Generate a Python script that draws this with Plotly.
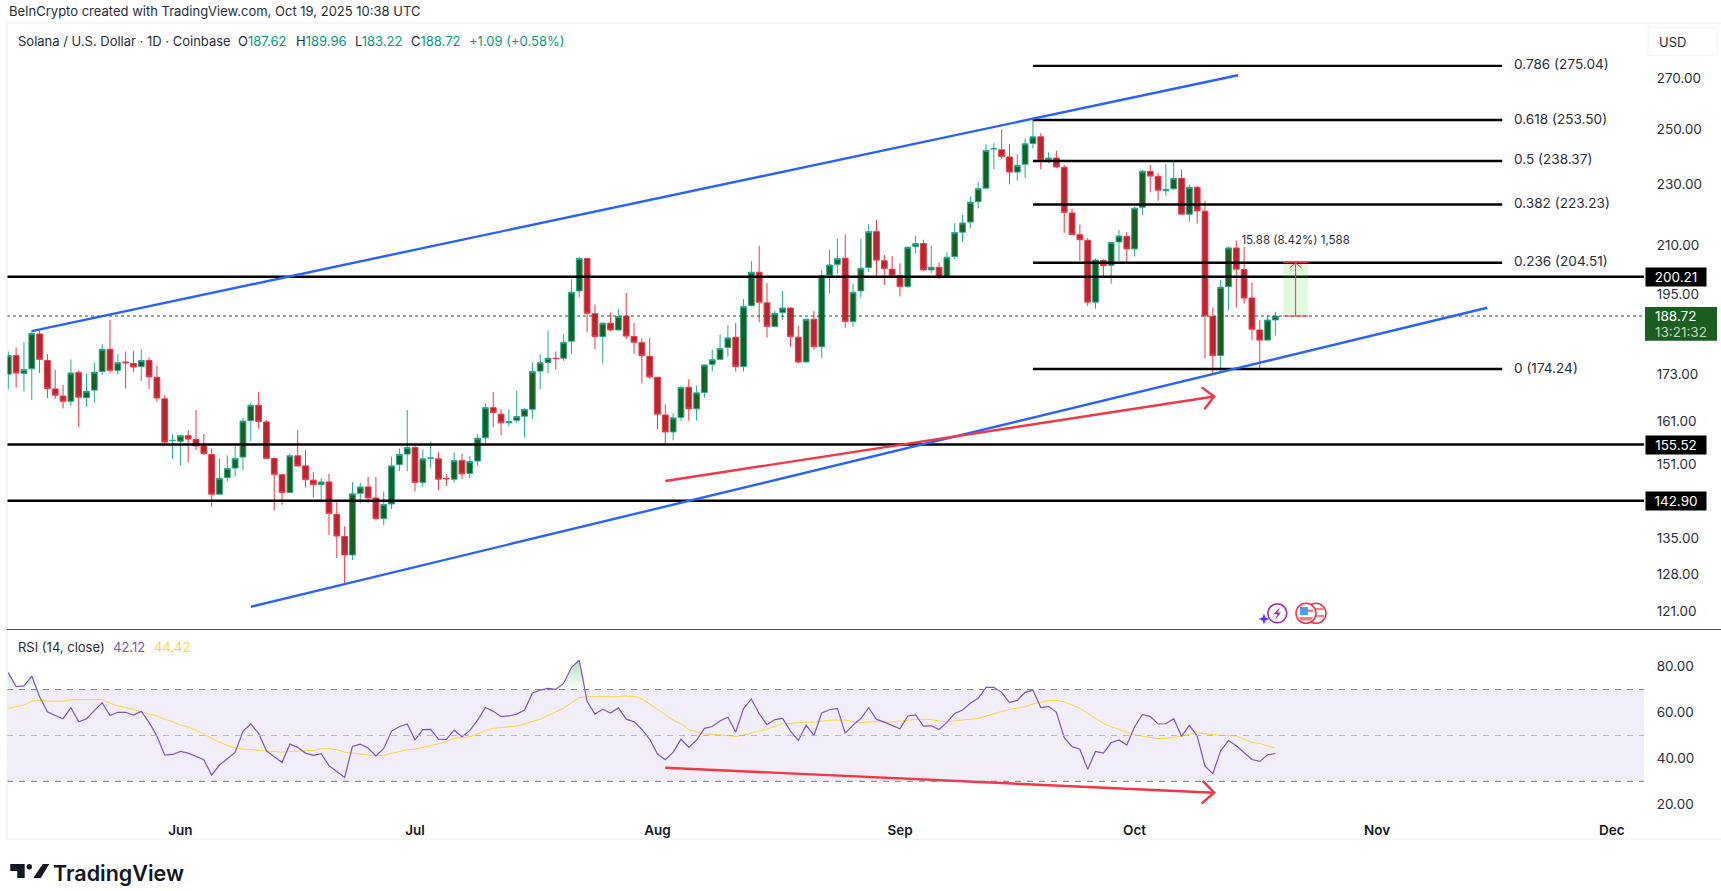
import numpy as np
import pandas as pd
import plotly.graph_objs as go

W, H = 1721, 891

# Daily candles, 10 May to 19 Oct 2025
first_day = "2025-05-10"
opens = [
    172.9, 177.8, 173.1, 174.3, 183.7, 176.5, 169.1, 167.3, 166.0, 173.3,
    166.9, 168.8, 173.6, 179.5, 173.9, 176.1, 175.7, 174.9, 176.5, 172.1,
    166.6, 156.4, 156.3, 157.6, 156.7, 155.2, 153.2, 144.3, 148.0, 150.1,
    152.6, 161.2, 165.0, 160.9, 152.3, 148.6, 144.7, 152.9, 150.6, 147.4,
    146.4, 147.0, 140.0, 135.4, 131.7, 144.5, 145.9, 143.5, 139.1, 142.2,
    150.9, 153.3, 154.8, 146.9, 152.3, 152.2, 147.8, 147.6, 151.8, 148.9,
    151.7, 157.1, 164.4, 162.8, 160.7, 161.3, 162.3, 164.0, 173.7, 176.0,
    177.1, 177.1, 181.7, 196.0, 205.8, 189.4, 183.0, 186.7, 184.8, 188.7,
    183.0, 181.3, 177.6, 172.1, 162.6, 158.5, 162.0, 169.5, 164.1, 168.2,
    175.5, 176.8, 180.0, 182.8, 174.9, 191.7, 201.6, 192.5, 185.8, 189.7,
    191.0, 182.8, 176.1, 187.8, 180.2, 200.7, 204.0, 205.9, 187.2, 196.0,
    203.0, 214.3, 205.1, 202.5, 200.6, 197.3, 209.6, 210.5, 202.3, 203.1,
    200.2, 206.4, 214.1, 217.4, 224.2, 228.8, 242.7, 242.4, 239.8, 234.4,
    237.2, 244.7, 247.2, 238.8, 239.4, 236.1, 220.4, 213.3, 211.5, 192.7,
    205.2, 203.7, 211.0, 212.8, 208.8, 222.3, 234.6, 232.9, 227.9, 228.6,
    232.2, 220.0, 229.1, 221.0, 188.6, 177.8, 197.3, 209.1, 202.4, 193.9,
    184.8, 182.0, 187.62,
]
highs = [
    178.9, 180.0, 181.4, 184.5, 184.7, 178.2, 174.1, 170.1, 176.8, 173.9,
    173.1, 176.0, 180.9, 187.7, 178.2, 178.9, 179.0, 179.5, 177.3, 175.2,
    167.5, 158.0, 157.9, 158.9, 163.8, 158.0, 154.6, 152.3, 153.0, 155.2,
    161.8, 165.6, 168.3, 161.4, 152.5, 148.8, 153.4, 158.9, 154.3, 149.2,
    147.8, 148.8, 142.6, 137.5, 147.0, 146.8, 148.1, 148.1, 144.9, 152.7,
    154.6, 163.8, 155.5, 154.4, 156.2, 153.7, 148.8, 153.7, 153.4, 152.8,
    158.0, 165.5, 168.3, 164.0, 164.0, 168.6, 164.2, 176.0, 178.2, 184.7,
    178.9, 183.6, 199.5, 206.3, 205.9, 192.0, 186.9, 189.7, 190.7, 195.4,
    186.8, 182.5, 182.6, 172.2, 165.2, 163.0, 169.8, 171.6, 170.0, 175.5,
    179.4, 183.5, 186.1, 186.7, 193.6, 205.0, 209.8, 198.3, 190.2, 196.0,
    191.2, 186.0, 188.0, 190.2, 202.3, 208.5, 212.0, 213.4, 198.1, 212.0,
    216.8, 218.1, 206.9, 206.6, 204.3, 209.5, 213.0, 211.7, 209.8, 204.6,
    207.7, 217.0, 219.8, 225.9, 231.0, 244.4, 244.8, 249.9, 244.5, 240.8,
    246.6, 253.8, 248.5, 241.5, 242.0, 236.9, 221.8, 216.6, 212.3, 205.8,
    205.6, 211.0, 214.9, 214.1, 222.4, 235.1, 236.9, 234.0, 237.3, 238.1,
    235.2, 230.0, 229.6, 224.5, 191.2, 199.3, 209.5, 211.4, 209.4, 198.5,
    187.6, 188.9, 189.96,
]
lows = [
    169.0, 169.4, 168.4, 166.3, 173.2, 166.8, 166.6, 164.2, 164.8, 159.6,
    164.6, 165.7, 172.7, 173.3, 172.8, 169.2, 173.5, 171.2, 169.0, 165.9,
    155.2, 152.2, 150.7, 151.4, 154.2, 153.1, 141.6, 144.2, 147.1, 148.2,
    149.7, 156.3, 159.3, 152.2, 140.8, 142.0, 144.5, 150.4, 145.8, 143.6,
    143.0, 135.7, 131.1, 126.1, 130.7, 142.3, 142.4, 138.7, 137.7, 141.1,
    149.4, 149.4, 144.9, 146.0, 150.0, 145.2, 146.1, 146.9, 147.6, 147.8,
    150.6, 155.8, 159.7, 157.7, 159.8, 160.7, 157.2, 161.6, 169.0, 173.2,
    174.1, 176.4, 178.3, 194.1, 184.2, 179.5, 175.7, 184.5, 184.7, 182.3,
    178.3, 170.5, 171.7, 159.2, 155.7, 156.5, 161.2, 161.2, 161.2, 166.9,
    173.6, 176.7, 177.5, 173.6, 173.6, 191.4, 187.0, 182.7, 185.6, 187.6,
    180.2, 175.7, 176.0, 179.4, 177.2, 195.2, 201.1, 185.4, 185.7, 194.1,
    201.7, 200.1, 197.7, 200.3, 194.4, 196.9, 207.4, 202.0, 201.3, 199.5,
    200.1, 205.6, 211.0, 215.3, 221.9, 228.4, 235.4, 239.1, 230.1, 231.4,
    232.4, 242.9, 235.4, 237.6, 235.8, 213.9, 213.0, 205.1, 191.6, 190.8,
    200.1, 198.1, 204.9, 204.4, 206.4, 219.7, 227.3, 224.5, 226.2, 228.2,
    219.8, 217.5, 216.9, 177.0, 172.8, 173.5, 190.3, 191.2, 192.3, 182.1,
    174.2, 181.9, 183.22,
]
closes = [
    177.8, 173.2, 174.1, 183.8, 176.8, 169.2, 167.5, 166.0, 173.2, 167.0,
    168.5, 173.4, 179.5, 173.9, 175.9, 175.9, 174.8, 176.5, 172.2, 166.8,
    156.1, 156.5, 157.6, 156.8, 155.2, 153.4, 144.3, 147.8, 150.0, 152.3,
    161.1, 165.0, 161.0, 152.3, 148.7, 144.7, 152.9, 150.6, 147.5, 146.4,
    147.0, 140.2, 135.5, 131.7, 144.4, 145.9, 143.5, 139.1, 142.1, 150.6,
    153.2, 154.8, 146.9, 152.2, 152.4, 147.6, 147.7, 151.8, 148.8, 151.6,
    157.0, 164.4, 163.2, 160.7, 161.0, 162.2, 164.0, 173.6, 175.9, 177.1,
    177.0, 181.4, 195.6, 205.8, 189.5, 183.0, 186.7, 184.8, 188.6, 183.1,
    181.4, 177.8, 172.2, 162.8, 158.5, 161.9, 169.5, 164.1, 168.1, 175.3,
    176.7, 179.7, 182.6, 174.9, 191.4, 201.6, 192.7, 185.8, 189.5, 191.0,
    183.0, 176.1, 187.8, 180.2, 200.6, 203.8, 205.8, 187.2, 195.6, 202.8,
    214.3, 205.3, 202.7, 200.6, 197.3, 209.3, 210.5, 202.3, 203.1, 200.1,
    206.2, 214.0, 217.1, 224.0, 228.6, 242.2, 242.8, 240.0, 234.4, 236.8,
    244.6, 247.2, 238.8, 239.4, 236.2, 220.6, 213.4, 211.7, 192.7, 205.3,
    203.6, 210.8, 212.9, 208.8, 222.0, 234.7, 233.0, 228.1, 228.4, 232.2,
    220.0, 229.1, 221.1, 188.8, 177.8, 197.1, 209.1, 202.5, 193.9, 185.0,
    182.0, 187.6, 188.72,
]

rsi = [
    77.4, 71.3, 71.6, 75.9, 66.9, 60.3, 58.7, 57.3, 62.1, 56.0,
    57.3, 60.6, 64.3, 58.7, 60.1, 60.1, 58.9, 60.5, 55.7, 49.7,
    41.4, 41.7, 43.0, 42.3, 41.0, 39.4, 32.7, 37.1, 39.8, 42.6,
    51.8, 55.0, 50.9, 43.3, 40.7, 38.2, 46.2, 44.8, 42.3, 41.3,
    42.0, 36.8, 34.3, 31.7, 45.2, 46.2, 44.5, 41.1, 44.3, 51.9,
    53.8, 55.0, 48.1, 52.5, 52.6, 48.4, 48.3, 52.3, 49.4, 52.1,
    56.7, 62.2, 60.5, 58.2, 58.5, 59.3, 61.1, 68.4, 69.8, 70.5,
    70.1, 72.7, 79.7, 82.8, 64.9, 59.3, 61.4, 59.8, 62.0, 57.1,
    56.0, 52.6, 48.3, 41.9, 39.4, 42.6, 48.4, 44.8, 48.0, 53.1,
    53.9, 56.3, 57.9, 51.5, 61.7, 65.9, 59.5, 54.7, 56.9, 57.4,
    51.9, 47.8, 54.5, 50.0, 59.8, 61.2, 61.8, 51.0, 54.5, 57.4,
    62.1, 57.0, 55.8, 54.5, 52.9, 58.5, 59.0, 54.1, 54.2, 52.6,
    55.7, 59.6, 61.1, 64.0, 66.2, 71.0, 71.0, 68.8, 64.3, 65.3,
    68.8, 69.8, 62.2, 62.7, 60.1, 49.0, 45.1, 44.0, 35.2, 43.0,
    42.3, 46.8, 48.0, 45.8, 53.8, 59.2, 58.2, 55.0, 55.1, 57.3,
    49.6, 54.4, 49.7, 36.6, 33.3, 43.3, 47.8, 45.5, 42.3, 39.5,
    38.7, 41.6, 42.12,
]
rsi_ma = [
    61.8, 62.7, 63.3, 64.9, 65.3, 65.0, 64.9, 64.9, 65.6, 65.6,
    65.6, 65.7, 65.6, 64.1, 62.8, 62.2, 61.4, 60.2, 59.3, 58.5,
    57.1, 56.1, 54.5, 53.7, 52.3, 50.7, 48.7, 47.1, 45.6, 44.6,
    44.0, 43.8, 43.5, 43.0, 42.9, 42.7, 43.0, 43.2, 43.3, 43.5,
    44.2, 44.2, 43.8, 42.7, 42.3, 41.9, 41.4, 41.1, 41.3, 42.3,
    43.0, 43.8, 44.0, 44.8, 45.5, 46.4, 47.2, 48.7, 49.1, 49.4,
    50.7, 52.1, 53.1, 53.5, 53.8, 54.1, 55.0, 56.0, 57.1, 58.7,
    60.3, 61.9, 64.3, 66.5, 66.9, 66.8, 66.8, 66.9, 67.0, 67.2,
    67.0, 65.9, 63.7, 61.4, 59.0, 56.7, 55.0, 52.6, 51.5, 50.7,
    50.5, 50.2, 49.7, 49.6, 50.2, 51.0, 51.9, 52.8, 53.9, 55.1,
    55.3, 55.7, 55.8, 55.8, 56.3, 56.6, 56.7, 56.7, 56.1, 55.7,
    55.8, 56.0, 55.8, 55.8, 56.3, 56.7, 57.0, 57.1, 56.9, 56.3,
    55.8, 56.4, 56.7, 57.1, 57.4, 58.5, 59.5, 60.3, 61.4, 61.9,
    62.5, 63.7, 64.6, 65.2, 65.3, 64.6, 63.3, 61.8, 59.6, 57.4,
    55.3, 53.8, 52.6, 51.5, 50.3, 49.7, 49.0, 48.6, 48.7, 49.1,
    49.7, 50.5, 51.3, 50.7, 50.2, 50.0, 50.0, 49.7, 48.4, 46.9,
    46.5, 45.5, 44.42,
]

# Axes
view_start, view_end = "2025-05-09 20:00", "2025-12-05 03:00"
price_ticks = [270, 250, 230, 210, 195, 173, 161, 151, 135, 128, 121]
price_range = [117.8, 293.4]
rsi_ticks = [80, 60, 40, 20]
rsi_range = [16.6, 96.0]
month_ticks = ["2025-06-01", "2025-07-01", "2025-08-01", "2025-09-01", "2025-10-01", "2025-11-01", "2025-12-01"]
month_labels = ["Jun", "Jul", "Aug", "Sep", "Oct", "Nov", "Dec"]

# Drawings
levels = [200.21, 155.52, 142.90]
fib_ratios = ["0.786", "0.618", "0.5", "0.382", "0.236", "0"]
fib_prices = [275.04, 253.50, 238.37, 223.23, 204.51, 174.24]
fib_start, fib_end, fib_label_at = "2025-09-18", "2025-11-17", "2025-11-18 05:00"
upper_dates, upper_prices = ["2025-05-13", "2025-10-14 05:00"], [184.5, 271.2]
lower_dates, lower_prices = ["2025-06-10", "2025-11-15 02:00"], [121.8, 191.1]
arrow_dates = ["2025-08-02", "2025-10-11 04:00"]
arrow_prices = [147.2, 167.2]
head_dates = ["2025-10-09 14:00", "2025-10-11 04:00", "2025-10-09 22:00"]
head_prices = [169.5, 167.2, 164.0]
rsi_arrow_dates = ["2025-08-02", "2025-10-11 04:00"]
rsi_arrow_vals = [35.9, 25.0]
rsi_head_dates = ["2025-10-09 17:00", "2025-10-11 04:00", "2025-10-09 14:00"]
rsi_head_vals = [30.2, 25.0, 20.3]
measure_dates = ["2025-10-20", "2025-10-23 05:00"]
measure_prices = [188.72, 204.6]
measure_mid = "2025-10-21 14:00"
measure_head_dates = ["2025-10-20 20:00", measure_mid, "2025-10-22 08:00"]
measure_head_prices = [203.0, 204.4, 203.0]
measure_text_price = 211.3

TEAL, DARK_GREEN = "#22ab94", "#1b5e20"
RED, DARK_RED = "#f23645", "#b22833"
BLUE, PURPLE, YELLOW = "#2962ff", "#7e57c2", "#fdd835"
TEXT = "#2a2e39"
FONT = "Inter, Roboto, sans-serif"
THICK = 2.4

days = pd.date_range(first_day, periods=len(closes))


def px(x):
    return x / W


def py(y):
    return 1 - y / H


def path(points, close=True):
    d = "M" + " L".join(f"{px(x):.5f},{py(y):.5f}" for x, y in points)
    return d + (" Z" if close else "")


def line(x, y, color="black", width=THICK, dash=None, xaxis="x", yaxis="y"):
    return go.Scatter(x=x, y=y, mode="lines", line=dict(color=color, width=width, dash=dash),
                      xaxis=xaxis, yaxis=yaxis, hoverinfo="skip", showlegend=False)


fig = go.Figure()

# Last price line sits under the candles
fig.add_trace(line([view_start, view_end], [closes[-1]] * 2, DARK_GREEN, 1, "dot"))

fig.add_trace(go.Candlestick(
    x=days, open=opens, high=highs, low=lows, close=closes, whiskerwidth=0,
    increasing=dict(line=dict(color=TEAL, width=1), fillcolor=DARK_GREEN),
    decreasing=dict(line=dict(color=RED, width=1), fillcolor=DARK_RED),
    hoverinfo="skip", showlegend=False,
))

# Horizontal levels
for level in levels:
    fig.add_trace(line([view_start, view_end], [level, level]))

# Fib levels
for price in fib_prices:
    fig.add_trace(line([fib_start, fib_end], [price, price]))

# Channel
fig.add_trace(line(upper_dates, upper_prices, BLUE))
fig.add_trace(line(lower_dates, lower_prices, BLUE))

# Price divergence arrow
fig.add_trace(line(arrow_dates, arrow_prices, RED))
fig.add_trace(line(head_dates, head_prices, RED))

# Measure tool
m0, m1 = measure_dates
p0, p1 = measure_prices
fig.add_trace(go.Scatter(x=[m0, m1, m1, m0, m0], y=[p0, p0, p1, p1, p0], mode="lines", fill="toself",
                         fillcolor="rgba(76,220,60,0.16)", line=dict(width=0),
                         hoverinfo="skip", showlegend=False))
fig.add_trace(line(measure_dates, [p0, p0], RED, 1))
fig.add_trace(line(measure_dates, [p1, p1], RED, 1))
fig.add_trace(line([measure_mid, measure_mid], [p0, p1], RED, 1))
fig.add_trace(line(measure_head_dates, measure_head_prices, RED, 1))
fig.add_trace(go.Scatter(x=[measure_mid], y=[measure_text_price], mode="text", text=["15.88 (8.42%) 1,588"],
                         textposition="middle center", textfont=dict(family=FONT, size=11.5, color=TEXT),
                         hoverinfo="skip", showlegend=False))

# RSI pane: the parts above 70 get a green gradient
above = np.maximum(rsi, 70)
for a, b in [(0, 5), (67, 76)]:
    fig.add_trace(go.Scatter(x=days[a:b], y=[70] * (b - a), mode="lines", line=dict(width=0),
                             xaxis="x2", yaxis="y2", hoverinfo="skip", showlegend=False))
    fig.add_trace(go.Scatter(x=days[a:b], y=above[a:b], mode="lines", line=dict(width=0), fill="tonexty",
                             fillgradient=dict(type="vertical", colorscale=[[0, "rgba(76,175,80,0.02)"], [1, "rgba(76,175,80,0.4)"]]),
                             xaxis="x2", yaxis="y2", hoverinfo="skip", showlegend=False))
fig.add_trace(line(days, rsi_ma, YELLOW, 1, xaxis="x2", yaxis="y2"))
fig.add_trace(line(days, rsi, PURPLE, 1.2, xaxis="x2", yaxis="y2"))
fig.add_trace(line(rsi_arrow_dates, rsi_arrow_vals, RED, xaxis="x2", yaxis="y2"))
fig.add_trace(line(rsi_head_dates, rsi_head_vals, RED, xaxis="x2", yaxis="y2"))

shapes = [
    # RSI band and its dashed limits
    dict(type="rect", xref="x2 domain", yref="y2", x0=0, x1=1, y0=30, y1=70,
         fillcolor="rgba(126,87,194,0.10)", line=dict(width=0), layer="below"),
    dict(type="line", xref="x2 domain", yref="y2", x0=0, x1=1, y0=70, y1=70, line=dict(color="#787b86", width=1, dash="6px,6px")),
    dict(type="line", xref="x2 domain", yref="y2", x0=0, x1=1, y0=50, y1=50, line=dict(color="#b2b5be", width=1, dash="6px,6px")),
    dict(type="line", xref="x2 domain", yref="y2", x0=0, x1=1, y0=30, y1=30, line=dict(color="#787b86", width=1, dash="6px,6px")),
    # Frame
    dict(type="line", xref="paper", yref="paper", x0=px(7), x1=1, y0=py(23), y1=py(23), line=dict(color="#eceef2", width=1)),
    dict(type="line", xref="paper", yref="paper", x0=px(7), x1=px(7), y0=py(23), y1=py(839), line=dict(color="#eceef2", width=1)),
    dict(type="line", xref="paper", yref="paper", x0=px(7), x1=1, y0=py(839), y1=py(839), line=dict(color="#eceef2", width=1)),
    dict(type="line", xref="paper", yref="paper", x0=px(7), x1=1, y0=py(629.5), y1=py(629.5), line=dict(color="#50535e", width=1)),
    # USD button
    dict(type="rect", xref="paper", yref="paper", x0=px(1648), x1=px(1717), y0=py(55.7), y1=py(27.3),
         fillcolor="white", line=dict(color="#f0f3fa", width=1)),
    # Last price tag
    dict(type="rect", xref="paper", yref="paper", x0=px(1645), x1=px(1717), y0=py(340.7), y1=py(307),
         fillcolor=DARK_GREEN, line=dict(width=0)),
    # TradingView mark
    dict(type="path", xref="paper", yref="paper", path=path([(10.3, 864), (24.7, 864), (24.7, 878), (17.3, 878), (17.3, 871), (10.3, 871)]),
         fillcolor="#131722", line=dict(width=0)),
    dict(type="circle", xref="paper", yref="paper", x0=px(26.6), x1=px(32), y0=py(869.4), y1=py(864), fillcolor="#131722", line=dict(width=0)),
    dict(type="path", xref="paper", yref="paper", path=path([(42.7, 864), (49.3, 864), (40.7, 878), (33.3, 878)]),
         fillcolor="#131722", line=dict(width=0)),
    # Events: assistant mark and two US flags
    dict(type="circle", xref="paper", yref="paper", x0=px(1267.8), x1=px(1286.8), y0=py(622.8), y1=py(603.8),
         line=dict(color="#9c27b0", width=1.6)),
    dict(type="path", xref="paper", yref="paper", path=path([(1280, 607), (1274, 614), (1277.5, 614), (1275, 620), (1281, 612.5), (1277.5, 612.5)]),
         fillcolor="#9c27b0", line=dict(width=0)),
    dict(type="path", xref="paper", yref="paper", path=path([(1264, 613.5), (1265.4, 617.6), (1269.5, 619), (1265.4, 620.4), (1264, 624.5), (1262.6, 620.4), (1258.5, 619), (1262.6, 617.6)]),
         fillcolor="#5c33ff", line=dict(width=0)),
    dict(type="circle", xref="paper", yref="paper", x0=px(1306), x1=px(1326), y0=py(623.3), y1=py(603.3),
         fillcolor="white", line=dict(color=RED, width=1.6)),
    dict(type="rect", xref="paper", yref="paper", x0=px(1314), x1=px(1324), y0=py(610), y1=py(608), fillcolor="#f77c80", line=dict(width=0)),
    dict(type="rect", xref="paper", yref="paper", x0=px(1314), x1=px(1324), y0=py(617), y1=py(615), fillcolor="#f77c80", line=dict(width=0)),
    dict(type="circle", xref="paper", yref="paper", x0=px(1296), x1=px(1316), y0=py(623.3), y1=py(603.3),
         fillcolor="white", line=dict(color=RED, width=1.6)),
    dict(type="rect", xref="paper", yref="paper", x0=px(1300), x1=px(1308), y0=py(615), y1=py(607), fillcolor="#4a9df0", line=dict(width=0)),
    dict(type="rect", xref="paper", yref="paper", x0=px(1308), x1=px(1313.5), y0=py(612), y1=py(609.5), fillcolor="#f77c80", line=dict(width=0)),
    dict(type="path", xref="paper", yref="paper", path=path([(1299, 617), (1313, 617), (1311, 620.5), (1301, 620.5)]), fillcolor="#f77c80", line=dict(width=0)),
]


def note(x, y, text, size=13, color=TEXT, anchor="left", weight=None):
    return dict(xref="paper", yref="paper", x=px(x - 1.5), y=py(y), text=text, showarrow=False,
                xanchor=anchor, yanchor="middle", align="left",
                font=dict(family=FONT, size=size, color=color, weight=weight))


def tag(price):
    return dict(xref="paper", yref="y", x=px(1645), y=np.log10(price), text=f"{price:.2f}", showarrow=False,
                xanchor="left", yanchor="middle", width=60, height=18, bgcolor="black", borderpad=0,
                font=dict(family=FONT, size=13.5, color="white"))


def fib_label(ratio, price):
    return dict(xref="x", yref="y", x=fib_label_at, y=np.log10(price), text=f"{ratio} ({price:.2f})", showarrow=False,
                xanchor="left", yanchor="middle", yshift=1.5, font=dict(family=FONT, size=13.6, color=TEXT))


VALUE = "#089981"
annotations = [
    note(8, 11.5, "BeInCrypto created with TradingView.com, Oct 19, 2025 10:38 UTC"),
    note(17, 40.6, "Solana / U.S. Dollar · 1D · Coinbase"),
    note(237, 40.6, f'O<span style="color:{VALUE}">187.62</span>'),
    note(295, 40.6, f'H<span style="color:{VALUE}">189.96</span>'),
    note(354, 40.6, f'L<span style="color:{VALUE}">183.22</span>'),
    note(410, 40.6, f'C<span style="color:{VALUE}">188.72</span>'),
    note(468, 40.6, "+1.09 (+0.58%)", color=VALUE),
    note(17, 647, "RSI (14, close)"),
    note(112.5, 647, "42.12", color=PURPLE),
    note(153.5, 647, "44.42", color=YELLOW),
    note(1658, 41.7, "USD"),
    note(1654, 316.3, "188.72", size=13.5, color="white"),
    note(1654, 331.7, "13:21:32", size=13.5, color="#c3d4c4"),
    note(52, 872.5, "TradingView", size=21.5, color="#131722", weight=600),
] + [tag(level) for level in levels] + [fib_label(r, p) for r, p in zip(fib_ratios, fib_prices)]

axis_font = dict(family=FONT, size=13.5, color=TEXT)
fig.update_layout(
    width=W, height=H, margin=dict(l=0, r=0, t=0, b=0),
    paper_bgcolor="white", plot_bgcolor="white", showlegend=False,
    boxgap=0.1, boxgroupgap=0.18,
    shapes=shapes, annotations=annotations,
    xaxis=dict(domain=[px(7), px(1644)], range=[view_start, view_end], type="date", anchor="y",
               showticklabels=False, showgrid=False, zeroline=False, ticks="", rangeslider=dict(visible=False)),
    yaxis=dict(domain=[py(629), py(23)], type="log", range=[float(np.log10(v)) for v in price_range], side="right", anchor="x",
               tickvals=price_ticks, ticktext=[f"{t:.2f}" for t in price_ticks], showgrid=False, zeroline=False,
               ticks="outside", ticklen=9, tickcolor="rgba(0,0,0,0)", tickfont=axis_font),
    xaxis2=dict(domain=[px(7), px(1644)], range=[view_start, view_end], type="date", anchor="y2",
                tickvals=month_ticks, ticktext=month_labels, showgrid=False, zeroline=False,
                ticks="outside", ticklen=6, tickcolor="rgba(0,0,0,0)",
                tickfont=dict(family=FONT, size=13.5, color="#131722", weight=600)),
    yaxis2=dict(domain=[py(812), py(630)], range=rsi_range, side="right", anchor="x2",
                tickvals=rsi_ticks, ticktext=[f"{t:.2f}" for t in rsi_ticks], showgrid=False, zeroline=False,
                ticks="outside", ticklen=9, tickcolor="rgba(0,0,0,0)", tickfont=axis_font),
)

fig.write_html("out.html", config=dict(displayModeBar=False), post_script="document.body.style.margin='0';")
